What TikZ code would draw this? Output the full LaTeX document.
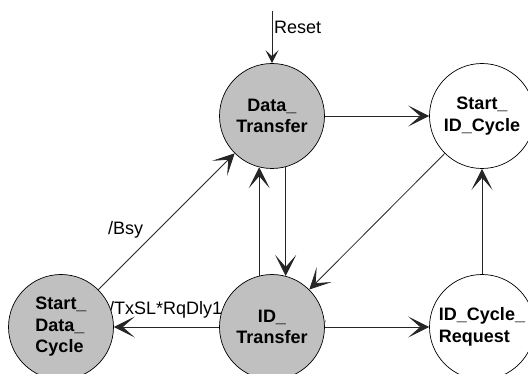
\documentclass[tikz,border=0pt]{standalone}
\usepackage{fontspec}
\setmainfont{Liberation Sans}
\usetikzlibrary{arrows.meta}
\begin{document}
\begin{tikzpicture}[x=1pt,y=-1pt,
  state/.style={circle,draw=black,line width=0.7pt,minimum size=105pt,inner sep=0pt,
    align=center,font=\fontsize{18}{21.5}\selectfont\bfseries},
  busy/.style={state,fill={rgb,255:red,192;green,192;blue,192}},
  idle/.style={state,fill=white},
  lbl/.style={inner sep=0pt,anchor=base west,font=\fontsize{18}{21}\selectfont},
  edge/.style={draw=black!85,line width=0.8pt,-{Stealth[length=21pt,width=21pt,inset=12pt]}},
  resetedge/.style={draw=black!85,line width=0.8pt,-{Stealth[length=13pt,width=13pt,inset=6pt]}}
]
\useasboundingbox (0,0) rectangle (528,374);
% labels (behind the states)
\node[lbl] (lreset) at (274,33.5) {Reset};
\node[lbl] (lbsy) at (108,235) {/Bsy};
\node[lbl] (ltx) at (109,315) {/TxSL*RqDly1};
\node[inner sep=0pt,text=black!60,font=\fontsize{7}{8}\selectfont] (ltick) at (325,323) {/};
% states
\node[busy] (dt) at (272,116) {Data\_\\Transfer};
\node[idle] (sic) at (482,116) {Start\_\\ID\_Cycle};
\node[busy] (idt) at (272,327) {ID\_\\Transfer};
\node[busy,align=left] (sdc) at (61,327) {Start\_\\Data\_\\Cycle};
\node[idle,align=left] (icr) at (482,327) {ID\_Cycle\_\\Request};
\coordinate (rst) at (272,11);
% transitions
\draw[resetedge] (rst) -- (dt);
\draw[edge] (dt) -- (sic);
\draw[edge] (sic) -- (idt);
\draw[edge] (dt.-75.7) -- (idt.75.7);
\draw[edge] (idt.104.3) -- (dt.-104.3);
\draw[edge] (sdc) -- (dt);
\draw[edge] (idt) -- (sdc);
\draw[edge] (idt) -- (icr);
\draw[edge] (icr) -- (sic);
\end{tikzpicture}
\end{document}
